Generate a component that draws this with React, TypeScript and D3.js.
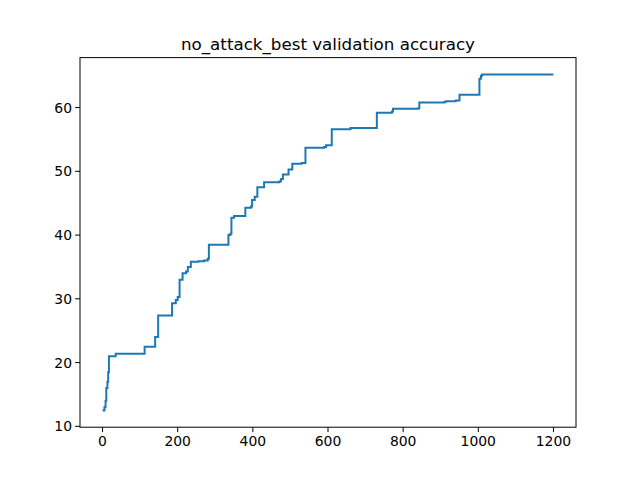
import React from "react";
import * as d3 from "d3";

const xs = [0,5,8,10,13,15,17,30,35,110,112,138,140,146,148,180,185,195,200,205,213,222,227,235,255,270,280,283,330,335,340,343,350,375,380,395,398,405,412,430,470,475,480,495,505,530,540,590,595,610,650,660,725,730,770,773,840,843,910,915,940,950,1000,1003,1007,1010,1200];
const ys = [12.5,13,14,16,17,18.5,21,21.0,21.4,21.4,22.5,22.5,24,24,27.4,27.4,29.3,29.8,30.3,33,34,34.3,35,35.8,35.9,36,36.3,38.5,38.5,40,40.2,42.7,43,43,44.3,44.5,45.5,46,47.5,48.3,48.4,48.8,49.5,50.3,51.2,51.3,53.7,53.8,54.1,56.6,56.6,56.8,56.8,59.2,59.4,59.8,59.9,60.8,60.9,61.0,61.1,62.0,62.0,64.5,65.0,65.2,65.2];
const xTicks = [0,200,400,600,800,1000,1200];
const yTicks = [10,20,30,40,50,60];

export default function App() {
  const L = 80, R = 576, T = 57.6, B = 427.2;
  const x = d3.scaleLinear().domain([-60, 1260]).range([L, R]);
  const yMin = 12.5, yMax = 65.2, m = (yMax - yMin) * 0.05;
  const y = d3.scaleLinear().domain([yMin - m, yMax + m]).range([B, T]);
  const pts = xs.map((v, i) => [v, ys[i]] as [number, number]);
  const line = d3.line<[number, number]>().x(d => x(d[0])).y(d => y(d[1])).curve(d3.curveStepAfter);
  const font = "DejaVu Sans, sans-serif";
  return (
    <svg width={640} height={480} style={{ position: "absolute", left: 0, top: 0, background: "#fff" }}>
      <rect width={640} height={480} fill="#fff" />
      <text x={(L + R) / 2} y={50} textAnchor="middle" fontFamily={font} fontSize={16.7}>no_attack_best validation accuracy</text>
      <path d={line(pts) || ""} fill="none" stroke="#1f77b4" strokeWidth={2} />
      <rect x={L} y={T} width={R - L} height={B - T} fill="none" stroke="#000" strokeWidth={1} />
      {xTicks.map(t => (
        <g key={t}>
          <line x1={x(t)} x2={x(t)} y1={B} y2={B + 4.9} stroke="#000" />
          <text x={x(t)} y={B + 19} textAnchor="middle" fontFamily={font} fontSize={13.9}>{t}</text>
        </g>
      ))}
      {yTicks.map(t => (
        <g key={t}>
          <line x1={L - 4.9} x2={L} y1={y(t)} y2={y(t)} stroke="#000" />
          <text x={L - 8} y={y(t) + 5} textAnchor="end" fontFamily={font} fontSize={13.9}>{t}</text>
        </g>
      ))}
    </svg>
  );
}
